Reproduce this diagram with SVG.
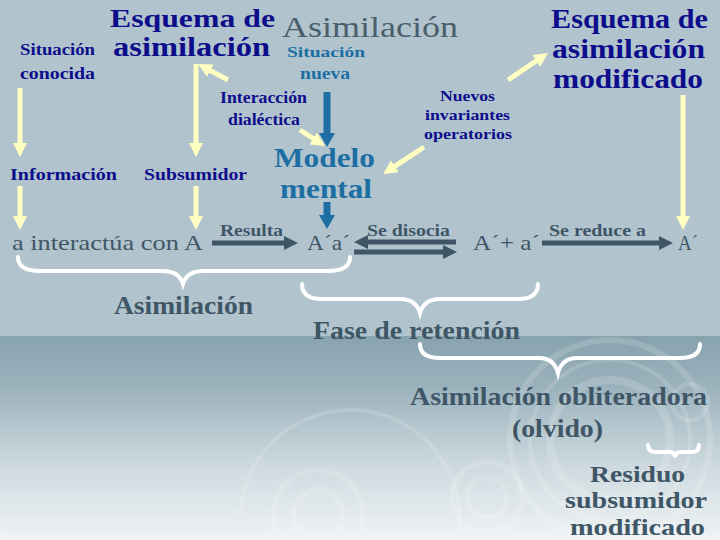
<svg xmlns="http://www.w3.org/2000/svg" width="720" height="540" viewBox="0 0 720 540" font-family="'Liberation Serif','DejaVu Serif','Times New Roman',serif">
<style>
text{font-family:"Liberation Serif","DejaVu Serif","Times New Roman",serif}
.b{font-weight:bold}
.navy{fill:#0d0d8c}
.blue{fill:#1d6fa3}
.slate{fill:#3f5666}
.ya{stroke:#ffffc2;stroke-width:5;fill:none}
.ba{stroke:#1d6fa3;stroke-width:7;fill:none}
.sa{stroke:#3f5666;stroke-width:5;fill:none}
.br{stroke:#ffffff;stroke-width:4;fill:none;stroke-linecap:round}
.dc{stroke:#ffffff;fill:none;opacity:0.15}
</style>
<defs>
<linearGradient id="bg" x1="0" y1="0" x2="0" y2="1">
<stop offset="0" stop-color="#87a3ae"/>
<stop offset="0.25" stop-color="#9bb2bc"/>
<stop offset="0.65" stop-color="#cfdbe0"/>
<stop offset="1" stop-color="#eff3f5"/>
</linearGradient>
<marker id="my" viewBox="0 0 14 14" refX="1" refY="7" markerWidth="14" markerHeight="14" markerUnits="userSpaceOnUse" orient="auto"><path d="M0,0 L14,7 L0,14 z" fill="#ffffc2"/></marker>
<marker id="mb" viewBox="0 0 14 16" refX="1" refY="8" markerWidth="14" markerHeight="16" markerUnits="userSpaceOnUse" orient="auto"><path d="M0,0 L14,8 L0,16 z" fill="#1d6fa3"/></marker>
<marker id="ms" viewBox="0 0 14 14" refX="1" refY="7" markerWidth="14" markerHeight="14" markerUnits="userSpaceOnUse" orient="auto"><path d="M0,0 L14,7 L0,14 z" fill="#3f5666"/></marker>
</defs>
<rect x="0" y="0" width="720" height="336" fill="#b1c4ce"/>
<rect x="0" y="336" width="720" height="204" fill="url(#bg)"/>
<g id="decor">
<circle class="dc" cx="610" cy="440" r="100" stroke-width="6"/>
<circle class="dc" cx="610" cy="440" r="80" stroke-width="4"/>
<circle class="dc" cx="610" cy="440" r="60" stroke-width="8"/>
<circle class="dc" cx="487" cy="497" r="35" stroke-width="5"/>
<circle class="dc" cx="487" cy="497" r="20" stroke-width="4"/>
<circle class="dc" cx="690" cy="402" r="18" stroke-width="4"/>
<circle class="dc" cx="318" cy="515" r="45" stroke-width="5"/>
<circle class="dc" cx="318" cy="515" r="25" stroke-width="6"/>
<circle class="dc" cx="350" cy="520" r="110" stroke-width="4"/>
</g>
<g id="connectors">
<line class="ya" x1="20" y1="88" x2="20" y2="144" marker-end="url(#my)"/>
<line class="ya" x1="20" y1="186" x2="20" y2="217" marker-end="url(#my)"/>
<line class="ya" x1="196" y1="64" x2="196" y2="144" marker-end="url(#my)"/>
<line class="ya" x1="228" y1="80" x2="209.5" y2="70.1" marker-end="url(#my)"/>
<line class="ya" x1="300" y1="130" x2="314" y2="139" marker-end="url(#my)"/>
<line class="ya" x1="196" y1="186" x2="196" y2="217" marker-end="url(#my)"/>
<line class="ya" x1="424" y1="147" x2="394" y2="166.8" marker-end="url(#my)"/>
<line class="ya" x1="508" y1="80" x2="537.2" y2="60.3" marker-end="url(#my)"/>
<line class="ya" x1="683" y1="95" x2="683" y2="217" marker-end="url(#my)"/>
<line class="ba" x1="327" y1="92" x2="327" y2="134" marker-end="url(#mb)"/>
<line class="ba" x1="327" y1="202" x2="327" y2="216" marker-end="url(#mb)"/>
<line class="sa" x1="212" y1="243" x2="285" y2="243" marker-end="url(#ms)"/>
<line class="sa" x1="456" y1="242" x2="367" y2="242" marker-end="url(#ms)"/>
<line class="sa" x1="354" y1="252" x2="444" y2="252" marker-end="url(#ms)"/>
<line class="sa" x1="542" y1="243" x2="660" y2="243" marker-end="url(#ms)"/>
<path class="br" d="M18,257 Q18,271 40,271 L163,271 Q179,271 183,284 Q187,271 203,271 L328,271 Q350,271 350,257"/>
<path class="br" d="M302,284 Q302,299 322,299 L400,299 Q416,299 420,313 Q424,299 440,299 L518,299 Q538,299 538,284"/>
<path class="br" d="M420,344 Q420,358 440,358 L539,358 Q554,358 558,373 Q562,358 577,358 L680,358 Q700,358 700,344"/>
<path class="br" d="M648,445 Q648,452 656,452 L670,452 Q674,452 675,457 Q676,452 680,452 L692,452 Q699,452 699,445"/>
</g>
<g id="titulo">
<text x="110" y="27" font-size="26" class="b navy" textLength="165" lengthAdjust="spacingAndGlyphs">Esquema de</text>
<text x="113" y="56" font-size="27" class="b navy" textLength="157" lengthAdjust="spacingAndGlyphs">asimilación</text>
</g>
<g id="asimilacion-titulo"><text x="282" y="37" font-size="30" fill="#4a5f6c" textLength="176" lengthAdjust="spacingAndGlyphs">Asimilación</text></g>
<g id="sit-conocida">
<text x="20" y="55" font-size="16" class="b navy" textLength="75" lengthAdjust="spacingAndGlyphs">Situación</text>
<text x="20" y="79" font-size="16" class="b navy" textLength="75" lengthAdjust="spacingAndGlyphs">conocida</text>
</g>
<g id="sit-nueva">
<text x="287" y="57" font-size="14" class="b blue" textLength="78" lengthAdjust="spacingAndGlyphs">Situación</text>
<text x="300" y="79" font-size="16" class="b blue" textLength="50" lengthAdjust="spacingAndGlyphs">nueva</text>
</g>
<g id="interaccion">
<text x="220" y="103" font-size="16" class="b navy" textLength="87" lengthAdjust="spacingAndGlyphs">Interacción</text>
<text x="228" y="125" font-size="16" class="b navy" textLength="72" lengthAdjust="spacingAndGlyphs">dialéctica</text>
</g>
<g id="nuevos">
<text x="440" y="101" font-size="15" class="b navy" textLength="55" lengthAdjust="spacingAndGlyphs">Nuevos</text>
<text x="425" y="120" font-size="15" class="b navy" textLength="85" lengthAdjust="spacingAndGlyphs">invariantes</text>
<text x="424" y="139" font-size="15" class="b navy" textLength="88" lengthAdjust="spacingAndGlyphs">operatorios</text>
</g>
<g id="esquema-modificado">
<text x="551" y="28" font-size="28" class="b navy" textLength="157" lengthAdjust="spacingAndGlyphs">Esquema de</text>
<text x="552" y="58" font-size="28" class="b navy" textLength="153" lengthAdjust="spacingAndGlyphs">asimilación</text>
<text x="553" y="88" font-size="28" class="b navy" textLength="150" lengthAdjust="spacingAndGlyphs">modificado</text>
</g>
<g id="informacion"><text x="10" y="180" font-size="17" class="b navy" textLength="107" lengthAdjust="spacingAndGlyphs">Información</text></g>
<g id="subsumidor"><text x="144" y="180" font-size="17" class="b navy" textLength="103" lengthAdjust="spacingAndGlyphs">Subsumidor</text></g>
<g id="modelo">
<text x="274" y="167" font-size="28" class="b blue" textLength="101" lengthAdjust="spacingAndGlyphs">Modelo</text>
<text x="280" y="198" font-size="28" class="b blue" textLength="92" lengthAdjust="spacingAndGlyphs">mental</text>
</g>
<g id="interactua"><text x="12" y="250" font-size="22" class="slate" textLength="191" lengthAdjust="spacingAndGlyphs">a interactúa con A</text></g>
<g id="resulta"><text x="220" y="236" font-size="16" class="b slate" textLength="63" lengthAdjust="spacingAndGlyphs">Resulta</text></g>
<g id="AaP"><text x="307" y="250" font-size="22" class="slate" textLength="43" lengthAdjust="spacingAndGlyphs">A´a´</text></g>
<g id="disocia"><text x="367" y="236" font-size="16" class="b slate" textLength="83" lengthAdjust="spacingAndGlyphs">Se disocia</text></g>
<g id="AmasA"><text x="473" y="250" font-size="22" class="slate" textLength="67" lengthAdjust="spacingAndGlyphs">A´+ a´</text></g>
<g id="reduce"><text x="549" y="236" font-size="16" class="b slate" textLength="97" lengthAdjust="spacingAndGlyphs">Se reduce a</text></g>
<g id="Aprima"><text x="678" y="250" font-size="22" class="slate" textLength="20" lengthAdjust="spacingAndGlyphs">A´</text></g>
<g id="asimilacion"><text x="114" y="314" font-size="26" class="b slate" textLength="139" lengthAdjust="spacingAndGlyphs">Asimilación</text></g>
<g id="retencion"><text x="313" y="339" font-size="26" class="b slate" textLength="207" lengthAdjust="spacingAndGlyphs">Fase de retención</text></g>
<g id="obliteradora">
<text x="410" y="405" font-size="26" class="b slate" textLength="297" lengthAdjust="spacingAndGlyphs">Asimilación obliteradora</text>
<text x="512" y="437" font-size="26" class="b slate" textLength="91" lengthAdjust="spacingAndGlyphs">(olvido)</text>
</g>
<g id="residuo">
<text x="590" y="482" font-size="24" class="b slate" textLength="95" lengthAdjust="spacingAndGlyphs">Residuo</text>
<text x="565" y="508" font-size="24" class="b slate" textLength="142" lengthAdjust="spacingAndGlyphs">subsumidor</text>
<text x="570" y="535" font-size="24" class="b slate" textLength="135" lengthAdjust="spacingAndGlyphs">modificado</text>
</g>
<g id="fuente"><text x="10" y="531" font-size="18" class="b" fill="#e6ecef" textLength="252" lengthAdjust="spacingAndGlyphs">(Adaptado de Moreira, 2000)</text></g>
</svg>
